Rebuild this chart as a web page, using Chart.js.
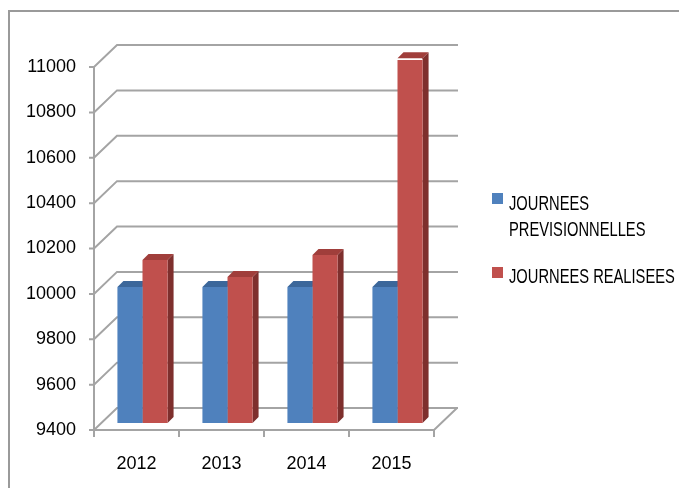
<!DOCTYPE html>
<html>
<head>
<meta charset="utf-8">
<script src="https://cdn.jsdelivr.net/npm/chart.js@4"></script>
<style>
  html, body { margin: 0; padding: 0; background: #fff; }
  #wrap { position: relative; width: 679px; height: 488px; overflow: hidden; }
  #frame { position: absolute; left: 8px; top: 10px; width: 700px; height: 500px; border: 2px solid #9a9a9a; box-sizing: border-box; }
  canvas { position: absolute; left: 0; top: 0; }
  .leg { position: absolute; font-family: "Liberation Sans", Arial, sans-serif; font-size: 21px; line-height: 26px; color: #000; white-space: nowrap; transform: scaleX(0.7); transform-origin: 0 0; }
  .sw { position: absolute; width: 11px; height: 11px; }
</style>
</head>
<body>
<div id="wrap">
  <div id="frame"></div>
  <canvas id="barChart" width="679" height="488"></canvas>
  <div class="sw" style="left:492px;top:193px;background:#4F81BD"></div>
  <div class="leg" style="left:509px;top:190px">JOURNEES<br>PREVISIONNELLES</div>
  <div class="sw" style="left:492px;top:267px;background:#C0504D"></div>
  <div class="leg" style="left:509px;top:263px">JOURNEES REALISEES</div>
</div>
<script>
const years = ['2012', '2013', '2014', '2015'];
const previsionnelles = [10000, 10000, 10000, 10000];
const realisees = [10118, 10043, 10140, 11008];
const yTicks = [9400, 9600, 9800, 10000, 10200, 10400, 10600, 10800, 11000];

const FONT = '"Liberation Sans", Arial, sans-serif';
const GRID = '#a4a4a4';

// fake 3D: back wall grid + floor, then bar tops/sides (fronts drawn by Chart.js on top)
const depth3d = {
  id: 'depth3d',
  beforeDatasetsDraw(chart) {
    const { ctx, scales: { x, y } } = chart;
    const fx = x.left - 6, bx = x.left + 17;
    ctx.save();
    ctx.strokeStyle = GRID;
    ctx.lineWidth = 2;
    yTicks.forEach(v => {
      const ym = y.getPixelForValue(v);
      ctx.beginPath();
      ctx.moveTo(fx - 5, ym + 7);
      ctx.lineTo(fx, ym + 7);
      ctx.lineTo(bx, ym - 15);
      ctx.lineTo(x.right + 18, ym - 15);
      ctx.stroke();
    });
    const yTop = y.getPixelForValue(yTicks[yTicks.length - 1]) + 7;
    const yBot = y.getPixelForValue(yTicks[0]) + 7;
    ctx.beginPath();
    ctx.moveTo(fx, yTop);
    ctx.lineTo(fx, yBot);
    ctx.lineTo(x.right - 6, yBot);
    ctx.lineTo(x.right + 17, yBot - 22);
    ctx.stroke();
    const step = (x.right - x.left) / years.length;
    for (let i = 0; i <= years.length; i++) {
      const tx = x.left + i * step - 6;
      ctx.beginPath();
      ctx.moveTo(tx, yBot);
      ctx.lineTo(tx, yBot + 7);
      ctx.stroke();
    }
    // bar tops and sides
    const shades = [['#3C679A', '#2F527C'], ['#A03E3B', '#7E2F2D']];
    const floor = y.getPixelForValue(yTicks[0]);
    chart.data.datasets.forEach((ds, di) => {
      chart.getDatasetMeta(di).data.forEach(bar => {
        const { x: cx, y: top, width } = bar.getProps(['x', 'y', 'width'], true);
        const l = cx - width / 2, r = cx + width / 2, d = 6;
        ctx.fillStyle = shades[di][1];
        ctx.beginPath();
        ctx.moveTo(r, top); ctx.lineTo(r + d, top - d); ctx.lineTo(r + d, floor - d); ctx.lineTo(r, floor);
        ctx.closePath(); ctx.fill();
        ctx.fillStyle = shades[di][0];
        ctx.beginPath();
        ctx.moveTo(l, top); ctx.lineTo(r, top); ctx.lineTo(r + d, top - d); ctx.lineTo(l + d, top - d);
        ctx.closePath(); ctx.fill();
      });
    });
    ctx.restore();
  }
};

new Chart(document.getElementById('barChart'), {
  type: 'bar',
  data: {
    labels: years,
    datasets: [
      { label: 'JOURNEES PREVISIONNELLES', data: previsionnelles, backgroundColor: '#4F81BD' },
      { label: 'JOURNEES REALISEES', data: realisees, backgroundColor: '#C0504D' }
    ]
  },
  options: {
    responsive: false,
    animation: false,
    events: [],
    layout: { padding: { left: 0, right: 239, top: 60, bottom: 0 } },
    datasets: { bar: { categoryPercentage: 0.59, barPercentage: 1 } },
    plugins: { legend: { display: false }, tooltip: { enabled: false } },
    scales: {
      x: {
        grid: { display: false, drawTicks: false },
        border: { display: false },
        ticks: { color: '#000', font: { family: FONT, size: 18 }, padding: 30, labelOffset: -6 },
        afterFit: s => { s.height = 65; }
      },
      y: {
        min: 9400,
        max: 11000,
        grid: { display: false, drawTicks: false },
        border: { display: false },
        ticks: {
          stepSize: 200, color: '#000', font: { family: FONT, size: 18 }, padding: 24, labelOffset: 7,
          callback: v => String(v)
        },
        afterFit: s => { s.width = 100; }
      }
    }
  },
  plugins: [depth3d]
});
</script>
</body>
</html>
